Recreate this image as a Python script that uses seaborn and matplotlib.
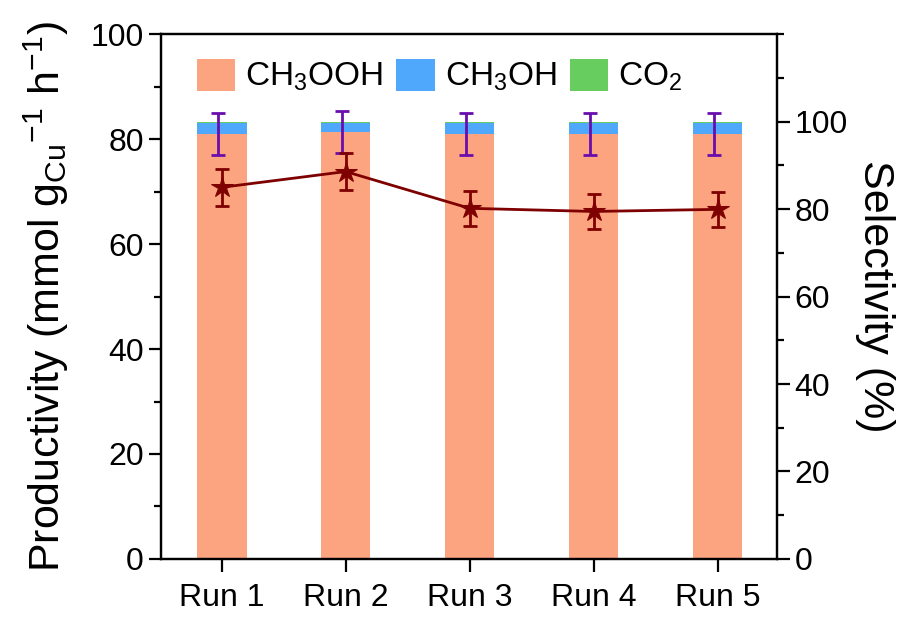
import numpy as np
import pandas as pd
import seaborn as sns
import matplotlib.pyplot as plt
from matplotlib.ticker import MultipleLocator

# données
runs = ['Run 1', 'Run 2', 'Run 3', 'Run 4', 'Run 5']
sel_ch3ooh = [97.1, 97.5, 97.1, 97.1, 97.1]
sel_ch3oh = [2.5, 2.2, 2.5, 2.5, 2.5]
sel_co2 = [0.4, 0.3, 0.4, 0.4, 0.4]
sel_err = [4.8, 4.8, 4.8, 4.8, 4.8]
productivity = [70.8, 73.8, 66.8, 66.2, 66.6]
prod_err = [3.5, 3.5, 3.3, 3.3, 3.3]

c_ooh = '#FCA47F'
c_oh = '#4FA8FB'
c_co2 = '#66CD5E'
c_line = '#7F0000'
c_sel = '#6A0DAD'

sns.set_style('ticks')
plt.rcParams['font.family'] = ['Liberation Sans', 'DejaVu Sans']
plt.rcParams['mathtext.fontset'] = 'custom'
plt.rcParams['mathtext.rm'] = 'Liberation Sans'
plt.rcParams['mathtext.it'] = 'Liberation Sans'
for k in ['text.color', 'axes.labelcolor', 'xtick.color', 'ytick.color', 'axes.edgecolor']:
    plt.rcParams[k] = 'black'

df = pd.DataFrame({'Run': runs,
                   'CH3OOH': sel_ch3ooh,
                   'CH3OH': np.array(sel_ch3ooh) + np.array(sel_ch3oh),
                   'CO2': np.array(sel_ch3ooh) + np.array(sel_ch3oh) + np.array(sel_co2)})

fig = plt.figure(figsize=(9.2, 6.22), dpi=100)
ax = fig.add_axes([0.175, 0.1013, 0.6696, 0.844])
ax2 = ax.twinx()

# barres empilées (selectivité) sur l'axe de droite
sns.barplot(data=df, x='Run', y='CO2', color=c_co2, width=0.4, saturation=1, linewidth=0, ax=ax2, label='CO$_2$')
sns.barplot(data=df, x='Run', y='CH3OH', color=c_oh, width=0.4, saturation=1, linewidth=0, ax=ax2, label='CH$_3$OH')
sns.barplot(data=df, x='Run', y='CH3OOH', color=c_ooh, width=0.4, saturation=1, linewidth=0, ax=ax2, label='CH$_3$OOH')
xpos = np.arange(len(runs))
ax2.errorbar(xpos - 0.03, sel_ch3ooh, yerr=sel_err, fmt='none', ecolor=c_sel, elinewidth=2, capsize=5, capthick=2)

# productivité sur l'axe de gauche
ax.errorbar(xpos, productivity, yerr=prod_err, fmt='none', ecolor=c_line, elinewidth=2, capsize=5, capthick=2)
sns.lineplot(x=xpos, y=productivity, ax=ax, color=c_line, lw=2, marker='*', markersize=16,
             markeredgecolor=c_line, sort=False)
ax.set_zorder(ax2.get_zorder() + 1)
ax.patch.set_visible(False)

ax.set_xlim(-0.49, 4.48)
ax.set_ylim(0, 100)
ax2.set_ylim(0, 120)
ax.set_xticks(xpos)
ax.set_xticklabels(runs)
ax2.set_xlabel('')
ax.set_xlabel('')
ax.set_ylabel('Productivity (mmol g$_{\\mathrm{Cu}}$$^{-1}$ h$^{-1}$)', fontsize=31, labelpad=14)
ax2.set_ylabel('Selectivity (%)', fontsize=31, rotation=270, labelpad=34)
ax.yaxis.set_minor_locator(MultipleLocator(10))
ax2.set_yticks([0, 20, 40, 60, 80, 100])
ax2.yaxis.set_minor_locator(MultipleLocator(10))

for a in (ax, ax2):
    for s in a.spines.values():
        s.set_linewidth(1.6)
        s.set_visible(True)
    a.tick_params(which='major', length=9, width=1.6, labelsize=23, direction='out')
    a.tick_params(which='minor', length=5, width=1.6, direction='out')
ax.tick_params(axis='x', pad=8)

handles, labels = ax2.get_legend_handles_labels()
order = [2, 1, 0]
ax2.legend([handles[i] for i in order], [labels[i] for i in order], loc='upper center',
           bbox_to_anchor=(0.452, 0.985), ncol=3, frameon=False, fontsize=24, borderpad=0,
           handlelength=1.15, handleheight=1.1, handletextpad=0.3, columnspacing=0.4)

plt.savefig('out.png', dpi=100)
